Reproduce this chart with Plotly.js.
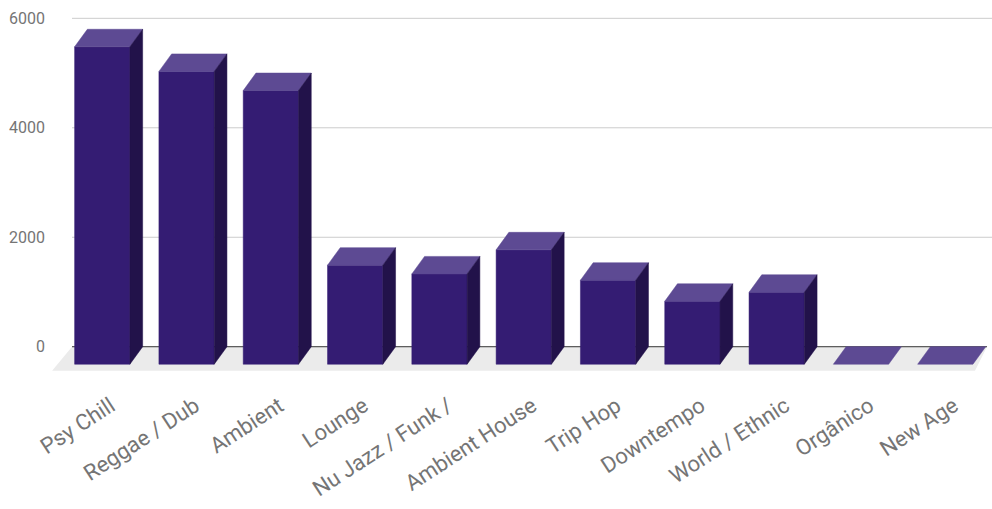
<!DOCTYPE html>
<html>
<head>
<meta charset="utf-8">
<script src="https://cdn.plot.ly/plotly-3.0.1.min.js"></script>
<style>html,body{margin:0;padding:0;background:#fff}#chart{width:992px;height:509px}</style>
</head>
<body>
<div id="chart"></div>
<script>
// ---- data ----
const categories = ["Psy Chill", "Reggae / Dub", "Ambient", "Lounge", "Nu Jazz / Funk /", "Ambient House", "Trip Hop", "Downtempo", "World / Ethnic", "Orgânico", "New Age"];
const values = [5800, 5350, 5000, 1810, 1650, 2090, 1535, 1150, 1315, 0, 0];
const yTickVals = [0, 2000, 4000, 6000];
const yTickText = ["0", "2000", "4000", "6000"];

// ---- 3D geometry (in axis units) ----
const W = 0.656;     // bar width
const DX = 0.151;    // depth shift in x
const DY = 320;      // depth shift in y
const X0 = -0.359, X1 = 10.554;   // back plane extent
const FLOOR_DY = 440, FLOOR_L = -0.595, FLOOR_R = 10.352, BACK_R = 10.495;

const colFront = '#341c73', colTop = '#5d4a93', colSide = '#22124a';

const fx = [], fy = [], tx = [], ty = [], sx = [], sy = [];
values.forEach((v, i) => {
  const l = i - W / 2, r = i + W / 2, f = v - DY;
  if (v > 0) {
    fx.push(l, r, r, l, l, null); fy.push(-DY, -DY, f, f, -DY, null);
    sx.push(r, r + DX, r + DX, r, r, null); sy.push(-DY, 0, v, f, -DY, null);
  }
  tx.push(l, r, r + DX, l + DX, l, null); ty.push(f, f, v, v, f, null);
});

const gx = [], gy = [];
yTickVals.filter(t => t !== 0).forEach(t => { gx.push(X0, X1, null); gy.push(t, t, null); });

const base = {type: 'scatter', mode: 'lines', hoverinfo: 'skip', showlegend: false};
const traces = [
  Object.assign({}, base, {x: gx, y: gy, line: {color: '#cccccc', width: 1}}),
  Object.assign({}, base, {x: [X0, BACK_R, FLOOR_R, FLOOR_L, X0], y: [0, 0, -FLOOR_DY, -FLOOR_DY, 0],
    fill: 'toself', fillcolor: '#ebebeb', line: {width: 0, color: '#ebebeb'}}),
  Object.assign({}, base, {x: [X0, BACK_R], y: [0, 0], line: {color: '#333333', width: 1}}),
  Object.assign({}, base, {x: fx, y: fy, fill: 'toself', fillcolor: colFront, line: {width: 0.5, color: colFront}}),
  Object.assign({}, base, {x: tx, y: ty, fill: 'toself', fillcolor: colTop, line: {width: 0.5, color: colTop}}),
  Object.assign({}, base, {x: sx, y: sy, fill: 'toself', fillcolor: colSide, line: {width: 0.5, color: colSide}})
];

const layout = {
  width: 992, height: 509,
  margin: {l: 50, r: 0, t: 10, b: 129},
  paper_bgcolor: '#ffffff', plot_bgcolor: 'rgba(0,0,0,0)',
  showlegend: false,
  font: {family: 'Roboto, sans-serif', color: '#757575'},
  xaxis: {
    range: [-0.620, 10.554], showgrid: false, zeroline: false, showline: false,
    tickvals: categories.map((c, i) => i + DX - 0.05), ticktext: categories,
    tickangle: -33, ticks: '', tickfont: {size: 22, color: '#757575'}, ticklabelstandoff: 8, fixedrange: true
  },
  yaxis: {
    range: [-608, 6152], showgrid: false, zeroline: false, showline: false,
    tickvals: yTickVals, ticktext: yTickText, ticks: '',
    tickfont: {size: 16, color: '#757575'}, ticklabelstandoff: 4, fixedrange: true
  }
};

Plotly.newPlot('chart', traces, layout, {displayModeBar: false, staticPlot: true});
</script>
</body>
</html>
